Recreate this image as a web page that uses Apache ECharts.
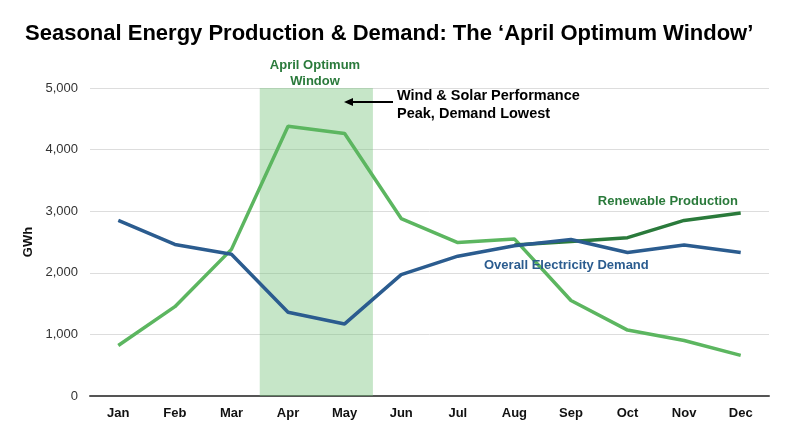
<!DOCTYPE html>
<html><head><meta charset="utf-8">
<script src="https://cdn.jsdelivr.net/npm/echarts@6/dist/echarts.min.js"></script>
<style>html,body{margin:0;padding:0;background:#fff}#c{width:800px;height:447px}</style>
</head><body><div id="c"></div>
<script>
const months = ['Jan','Feb','Mar','Apr','May','Jun','Jul','Aug','Sep','Oct','Nov','Dec'];
const windSolar = [820, 1450, 2380, 4380, 4260, 2880, 2490, 2550, 1550, 1070, 900, 660];
const renewable = [null, null, null, null, null, null, null, 2450, 2510, 2570, 2850, 2970];
const demand = [2850, 2460, 2300, 1360, 1170, 1970, 2270, 2440, 2540, 2330, 2450, 2330];
const yTicks = [0, 1000, 2000, 3000, 4000, 5000];
const windowStart = 'Apr', windowEnd = 'May';

const FONT = 'Liberation Sans, Arial, sans-serif';
// window band expressed in category-index units on a hidden value axis (band edges = ±0.5 around a month)
const bandFrom = months.indexOf(windowStart) - 0.5;
const bandTo = months.indexOf(windowEnd) + 0.5;

const chart = echarts.init(document.getElementById('c'), null, {renderer: 'canvas'});
chart.setOption({
  animation: false,
  title: {
    text: 'Seasonal Energy Production & Demand: The \u2018April Optimum Window\u2019',
    left: 20, top: 18,
    textStyle: {fontFamily: FONT, fontSize: 22, fontWeight: 'bold', color: '#000'}
  },
  grid: {left: 90, right: 31, top: 88, bottom: 51},
  xAxis: [{
    type: 'category', data: months, boundaryGap: true,
    axisLine: {lineStyle: {color: '#555', width: 2}},
    axisTick: {show: false},
    axisLabel: {fontFamily: FONT, fontSize: 13, fontWeight: 'bold', color: '#111', margin: 11}
  }, {
    type: 'value', min: -0.5, max: months.length - 0.5, show: false
  }],
  yAxis: {
    type: 'value', min: yTicks[0], max: yTicks[yTicks.length - 1], interval: 1000,
    name: 'GWh', nameLocation: 'middle', nameGap: 45,
    nameTextStyle: {fontFamily: FONT, fontSize: 13, fontWeight: 'bold', color: '#111'},
    axisLine: {show: false}, axisTick: {show: false},
    axisLabel: {fontFamily: FONT, fontSize: 13, color: '#333', margin: 12,
      formatter: v => v.toLocaleString('en-US')},
    splitLine: {lineStyle: {color: '#ddd', width: 1}}
  },
  series: [
    {
      name: 'window', type: 'line', xAxisIndex: 1, data: [], silent: true,
      markArea: {
        silent: true,
        itemStyle: {color: 'rgba(120,195,125,0.42)'},
        data: [[{xAxis: bandFrom}, {xAxis: bandTo}]]
      }, z: 1
    },
    {
      name: 'Wind & Solar', type: 'line', data: windSolar, symbol: 'none',
      lineStyle: {color: '#5cb660', width: 3.5}, z: 3
    },
    {
      name: 'Renewable Production', type: 'line', data: renewable, symbol: 'none',
      lineStyle: {color: '#2a7a3b', width: 3.5}, z: 3
    },
    {
      name: 'Overall Electricity Demand', type: 'line', data: demand, symbol: 'none',
      lineStyle: {color: '#2b5c8f', width: 3.5}, z: 4
    }
  ],
  graphic: [
    {type: 'text', x: 315, y: 57, z: 100, style: {text: 'April Optimum\nWindow',
      align: 'center', fill: '#2a7a3b', font: 'bold 13px ' + FONT, lineHeight: 16}},
    {type: 'text', x: 397, y: 87, z: 100, style: {text: 'Wind & Solar Performance\nPeak, Demand Lowest',
      fill: '#000', font: 'bold 14.5px ' + FONT, lineHeight: 18}},
    {type: 'line', z: 100, shape: {x1: 393, y1: 102, x2: 352, y2: 102}, style: {stroke: '#000', lineWidth: 1.8}},
    {type: 'polygon', z: 100, shape: {points: [[344, 102], [353, 98], [353, 106]]}, style: {fill: '#000'}},
    {type: 'text', x: 738, y: 195, z: 100, style: {text: 'Renewable Production', align: 'right',
      fill: '#2a7a3b', font: 'bold 13px ' + FONT}},
    {type: 'text', x: 484, y: 259, z: 100, style: {text: 'Overall Electricity Demand',
      fill: '#2b5c8f', font: 'bold 13px ' + FONT}}
  ]
});
</script></body></html>
